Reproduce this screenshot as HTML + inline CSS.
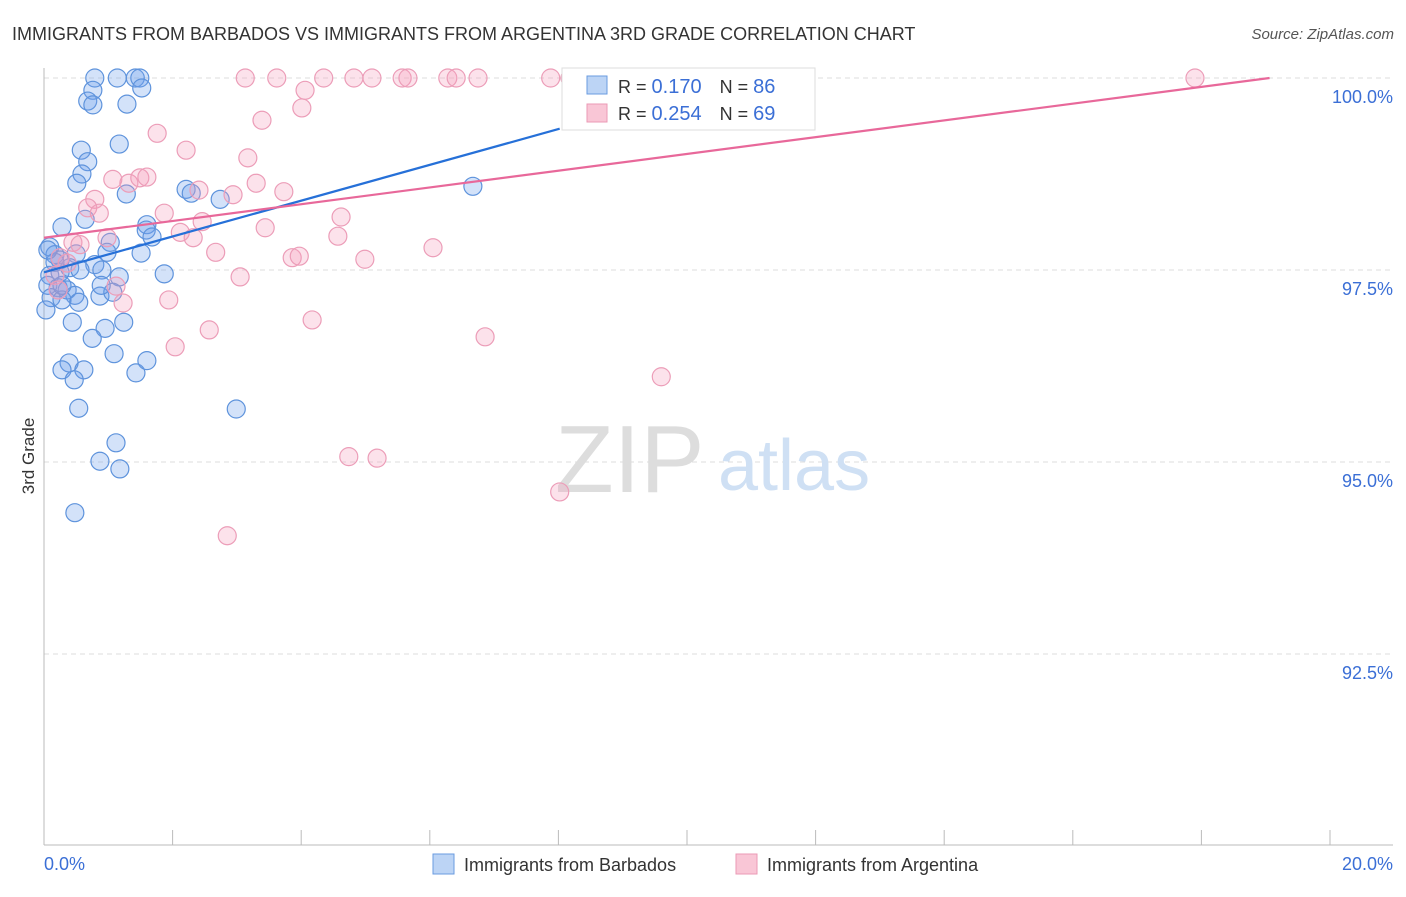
<!DOCTYPE html>
<html><head><meta charset="utf-8"><style>
body{margin:0;background:#fff;font-family:"Liberation Sans",sans-serif}
svg text{font-family:"Liberation Sans",sans-serif}
</style></head><body>
<svg width="1406" height="892" viewBox="0 0 1406 892">
<text x="12" y="40" font-size="18" fill="#333">IMMIGRANTS FROM BARBADOS VS IMMIGRANTS FROM ARGENTINA 3RD GRADE CORRELATION CHART</text>
<text x="1394" y="39" font-size="15" fill="#555" font-style="italic" text-anchor="end">Source: ZipAtlas.com</text>
<g id="grid"></g>
<g>
<text x="555" y="492" font-size="96" font-family="Liberation Serif" fill="#ddd">ZIP</text>
<text x="718" y="490" font-size="72" fill="#cfe0f4">atlas</text></g>
<line x1="44" y1="68" x2="44" y2="845" stroke="#bbb"/>
<line x1="44" y1="845" x2="1393" y2="845" stroke="#bbb"/>
<g id="xticks"></g>
<g id="yticks"></g>
<g id="pts"></g>
<g id="lines"></g>
<text x="34" y="456" font-size="17" fill="#333" transform="rotate(-90 34 456)" text-anchor="middle">3rd Grade</text>
<text x="44" y="870" font-size="18" fill="#3b6fd6">0.0%</text>
<text x="1393" y="870" font-size="18" fill="#3b6fd6" text-anchor="end">20.0%</text>
<g>
<rect x="562" y="68" width="253" height="62" fill="#fff" stroke="#ddd"/>
<rect x="587" y="76" width="20" height="18" fill="#bcd4f5" stroke="#6a9be0"/>
<rect x="587" y="104" width="20" height="18" fill="#f9c6d6" stroke="#eb9ab5"/>
<text x="618" y="93" font-size="18" fill="#333">R = <tspan fill="#3b6fd6" font-size="20">0.170</tspan><tspan dx="18">N = </tspan><tspan fill="#3b6fd6" font-size="20">86</tspan></text>
<text x="618" y="120" font-size="18" fill="#333">R = <tspan fill="#3b6fd6" font-size="20">0.254</tspan><tspan dx="18">N = </tspan><tspan fill="#3b6fd6" font-size="20">69</tspan></text>
</g>
<g>
<rect x="433" y="854" width="21" height="20" fill="#bcd4f5" stroke="#6a9be0"/>
<text x="464" y="871" font-size="18" fill="#333">Immigrants from Barbados</text>
<rect x="736" y="854" width="21" height="20" fill="#f9c6d6" stroke="#eb9ab5"/>
<text x="767" y="871" font-size="18" fill="#333">Immigrants from Argentina</text>
</g>
</svg>
<script>
const yTicks=[100,97.5,95,92.5];
const yTickLabels=["100.0%","97.5%","95.0%","92.5%"];
const xTickVals=[0,2,4,6,8,10,12,14,16,18,20];
const blueX=[0.79,1.14,1.42,1.49,0.76,1.52,0.68,0.76,1.29,1.17,0.58,0.68,0.59,0.51,1.28,2.21,2.29,2.74,1.60,1.59,0.28,0.64,1.03,0.98,1.51,1.68,0.09,0.17,0.25,0.50,0.79,0.90,0.09,0.25,0.40,0.56,1.17,1.87,0.06,0.22,0.36,0.48,0.87,1.07,0.11,0.28,0.54,0.89,1.24,0.44,0.95,0.75,0.03,1.09,0.39,0.28,1.43,1.60,0.62,0.47,0.54,2.99,1.12,0.87,1.18,0.48,6.67,0.28,0.17,0.06];
const blueY=[100,100,100,100,99.84,99.87,99.70,99.65,99.66,99.14,99.06,98.91,98.75,98.63,98.49,98.55,98.50,98.42,98.09,98.02,98.06,98.16,97.86,97.73,97.72,97.93,97.80,97.70,97.63,97.71,97.57,97.50,97.43,97.47,97.53,97.50,97.41,97.45,97.30,97.27,97.24,97.17,97.16,97.21,97.14,97.11,97.08,97.30,96.82,96.82,96.74,96.61,96.98,96.41,96.29,96.20,96.16,96.32,96.20,96.07,95.70,95.69,95.25,95.01,94.91,94.34,98.59,97.30,97.60,97.76];
const pinkX=[3.13,3.62,4.35,4.82,5.10,5.57,5.66,6.28,6.41,6.75,7.88,8.18,17.90,4.06,4.01,3.39,10.84,1.76,2.21,3.17,1.07,1.32,1.49,1.60,3.30,2.41,3.73,0.79,0.68,0.86,1.87,2.94,2.46,4.62,2.12,2.32,4.57,3.44,0.98,0.45,0.56,2.67,6.05,3.86,3.97,4.99,3.05,1.12,1.23,1.94,2.57,4.17,6.86,2.04,9.60,4.74,5.18,8.02,2.85,0.25,0.36,0.17,0.22];
const pinkY=[100,100,100,100,100,100,100,100,100,100,100,100,100,99.84,99.61,99.45,99.71,99.28,99.06,98.96,98.68,98.63,98.70,98.71,98.63,98.54,98.52,98.42,98.31,98.24,98.24,98.48,98.13,98.19,97.99,97.92,97.94,98.05,97.92,97.86,97.83,97.73,97.79,97.66,97.68,97.64,97.41,97.29,97.07,97.11,96.72,96.85,96.63,96.50,96.11,95.07,95.05,94.61,94.04,97.66,97.59,97.43,97.24];
const blueLine=[[0,97.47],[8.02,99.34]];
const pinkLine=[[0,97.92],[19.06,100]];
const sx=v=>44+v/20*1286;
const sy=v=>78+(100-v)/2.5*192;
const NS="http://www.w3.org/2000/svg";
function mk(t,a,p){const e=document.createElementNS(NS,t);for(const k in a)e.setAttribute(k,a[k]);p.appendChild(e);return e;}
const grid=document.getElementById('grid'),yt=document.getElementById('yticks'),xt=document.getElementById('xticks');
yTicks.forEach((v,i)=>{
 const l=mk('line',{x1:44,x2:1393,y1:sy(v),y2:sy(v),stroke:'#ddd','stroke-dasharray':'5,4'},grid);
 
 
 const t=mk('text',{x:1393,y:sy(v)+25,'font-size':18,fill:'#3b6fd6','text-anchor':'end'},yt);
 t.textContent=yTickLabels[i];
 
 
});
xTickVals.forEach(v=>{
 const l=mk('line',{x1:sx(v),x2:sx(v),y1:830,y2:845,stroke:'#bbb'},xt);
 
 
});
const pts=document.getElementById('pts');
blueX.forEach((x,i)=>{
 const c=mk('circle',{cx:sx(x),cy:sy(blueY[i]),r:9,fill:'rgba(110,160,235,0.3)',stroke:'#5e93dc','stroke-width':1.2},pts);
 
 
});
pinkX.forEach((x,i)=>{
 const c=mk('circle',{cx:sx(x),cy:sy(pinkY[i]),r:9,fill:'rgba(245,160,190,0.3)',stroke:'#ec9db8','stroke-width':1.2},pts);
 
 
});
const lines=document.getElementById('lines');
const bl=mk('line',{x1:sx(blueLine[0][0]),y1:sy(blueLine[0][1]),x2:sx(blueLine[1][0]),y2:sy(blueLine[1][1]),stroke:'#2670d8','stroke-width':2.2},lines);


const pl=mk('line',{x1:sx(pinkLine[0][0]),y1:sy(pinkLine[0][1]),x2:sx(pinkLine[1][0]),y2:sy(pinkLine[1][1]),stroke:'#e8689a','stroke-width':2.2},lines);


</script>
</body></html>
